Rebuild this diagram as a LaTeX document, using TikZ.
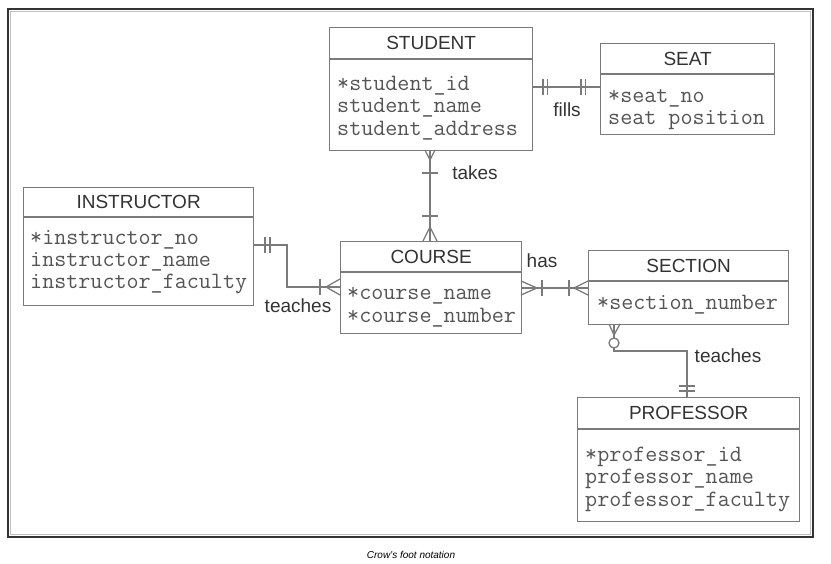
\documentclass[tikz,border=0pt]{standalone}
\usepackage{fontspec}
\setmainfont{Liberation Sans}
\definecolor{lc}{HTML}{7A7A7A}
\definecolor{hc}{HTML}{333333}
\definecolor{ac}{HTML}{555555}
\definecolor{fc}{HTML}{333333}
\begin{document}
\begin{tikzpicture}[x=1pt,y=-1pt,
  ent/.style={draw=lc, line width=1.3pt, fill=white, inner sep=0pt, anchor=north west},
  hdr/.style={font=\fontsize{19}{19}\selectfont, text=hc, text height=13.6pt, text depth=0pt, inner sep=0pt},
  att/.style={font=\ttfamily\fontsize{23.4}{23.4}\selectfont, text=ac, anchor=west, inner sep=0pt, text height=18pt, text depth=2pt},
  lbl/.style={font=\fontsize{19}{19}\selectfont, text=hc, inner sep=0pt, text height=13.6pt, text depth=0pt},
  cl/.style={draw=lc, line width=1.3pt},
  sep/.style={draw=lc, line width=1.3pt}]
\useasboundingbox (0,0) rectangle (831,564);
% frame
\draw[fc, line width=2pt] (8,9) rectangle (813,537);
\draw[black!25, line width=1pt] (10.5,11.5) rectangle (810.5,534.5);
\node[font=\itshape\fontsize{10}{10}\selectfont, inner sep=0pt] (cap) at (411,555) {Crow's foot notation};

% STUDENT
\node[ent, minimum width=203pt, minimum height=123pt] (student) at (329,27) {};
\draw[sep] (student.west |- 0,59) -- (student.east |- 0,59);
\node[hdr] (studentT) at (student.north |- 0,43) {STUDENT};
\node[att] (s1) at (337,83) {*student\_id};
\node[att] (s2) at (337,105) {student\_name};
\node[att] (s3) at (337,128) {student\_address};

% SEAT
\node[ent, minimum width=174pt, minimum height=91pt] (seat) at (600,43) {};
\draw[sep] (seat.west |- 0,74) -- (seat.east |- 0,74);
\node[hdr] (seatT) at (seat.north |- 0,58.5) {SEAT};
\node[att] (e1) at (608,95) {*seat\_no};
\node[att] (e2) at (608,117) {seat position};

% INSTRUCTOR
\node[ent, minimum width=230pt, minimum height=118pt] (instructor) at (23,187) {};
\draw[sep] (instructor.west |- 0,217) -- (instructor.east |- 0,217);
\node[hdr] (instructorT) at (instructor.north |- 0,202) {INSTRUCTOR};
\node[att] (i1) at (30,237) {*instructor\_no};
\node[att] (i2) at (30,259) {instructor\_name};
\node[att] (i3) at (30,281) {instructor\_faculty};

% COURSE
\node[ent, minimum width=181pt, minimum height=92pt] (course) at (340,241) {};
\draw[sep] (course.west |- 0,272) -- (course.east |- 0,272);
\node[hdr] (courseT) at (course.north |- 0,256.5) {COURSE};
\node[att] (c1) at (347,292) {*course\_name};
\node[att] (c2) at (347,315) {*course\_number};

% SECTION
\node[ent, minimum width=200pt, minimum height=74pt] (section) at (588,250) {};
\draw[sep] (section.west |- 0,281) -- (section.east |- 0,281);
\node[hdr] (sectionT) at (section.north |- 0,265.5) {SECTION};
\node[att] (x1) at (597,302) {*section\_number};

% PROFESSOR
\node[ent, minimum width=222pt, minimum height=124pt] (professor) at (577,397) {};
\draw[sep] (professor.west |- 0,429) -- (professor.east |- 0,429);
\node[hdr] (professorT) at (professor.north |- 0,413) {PROFESSOR};
\node[att] (p1) at (585,453) {*professor\_id};
\node[att] (p2) at (585,475) {professor\_name};
\node[att] (p3) at (585,498) {professor\_faculty};

% fills: STUDENT -- SEAT
\draw[cl] (student.east |- 0,87) -- (seat.west |- 0,87);
\draw[cl] (543,79) -- (543,95) (547.5,79) -- (547.5,95);
\draw[cl] (581,79) -- (581,95) (585.5,79) -- (585.5,95);
\node[lbl] (fills) at (567,110) {fills};

% takes: STUDENT -- COURSE
\draw[cl] (student.south -| 430,0) -- (course.north -| 430,0);
\draw[cl] (425,150) -- (430,160) -- (435,150);
\draw[cl] (422,173) -- (438,173);
\draw[cl] (422,216) -- (438,216);
\draw[cl] (423,241) -- (430,227) -- (437,241);
\node[lbl] (takes) at (475,173) {takes};

% teaches: INSTRUCTOR -- COURSE
\draw[cl] (instructor.east |- 0,245) -- (287,245) -- (287,287) -- (course.west |- 0,287);
\draw[cl] (265,237) -- (265,253) (270,237) -- (270,253);
\draw[cl] (320,279) -- (320,295);
\draw[cl] (340,279) -- (326,287) -- (340,295);
\node[lbl] (teaches1) at (298,306) {teaches};

% has: COURSE -- SECTION
\draw[cl] (course.east |- 0,288) -- (section.west |- 0,288);
\draw[cl] (521,281) -- (537,288) -- (521,295);
\draw[cl] (542,280) -- (542,296);
\draw[cl] (569,280) -- (569,296);
\draw[cl] (588,281) -- (574,288) -- (588,295);
\node[lbl] (has) at (542,261) {has};

% teaches: SECTION -- PROFESSOR
\draw[cl] (section.south -| 614,0) -- (614,351) -- (687,351) -- (professor.north -| 687,0);
\draw[cl] (609,324) -- (614,335) -- (620,324);
\draw[cl, fill=white] (614,343) circle (5pt);
\draw[cl] (679,386) -- (695,386) (679,391) -- (695,391);
\node[lbl] (teaches2) at (728,356) {teaches};
\end{tikzpicture}
\end{document}
